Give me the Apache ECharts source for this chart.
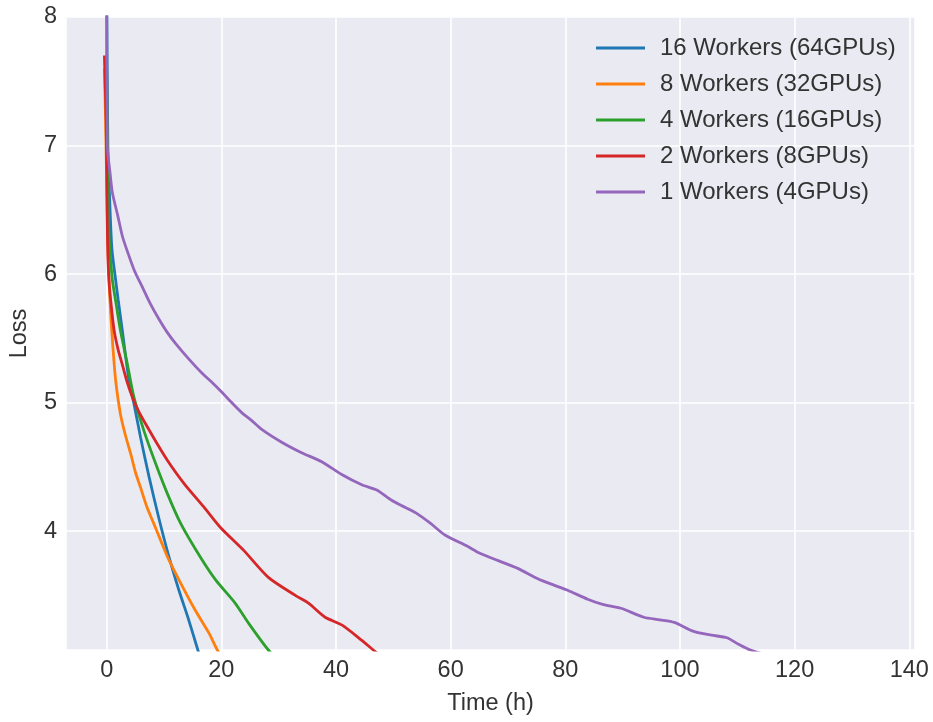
<!DOCTYPE html>
<html>
<head>
<meta charset="utf-8">
<script src="https://cdn.jsdelivr.net/npm/echarts@6/dist/echarts.min.js"></script>
<style>
html,body{margin:0;padding:0;background:#ffffff;}
#chart{width:933px;height:722px;}
</style>
</head>
<body>
<div id="chart"></div>
<script>
// Series names (legend order)
const seriesNames = ['16 Workers (64GPUs)', '8 Workers (32GPUs)', '4 Workers (16GPUs)', '2 Workers (8GPUs)', '1 Workers (4GPUs)'];

// 16 Workers (64GPUs)
const w16Time = [0, 0.2, 0.5, 0.9, 1.57, 2.0, 2.73, 3.3, 3.9, 4.76, 5.9, 7.4, 9.1, 10.8, 12.6, 14.3, 15.9, 17.5];
const w16Loss = [8.2, 7.0, 6.6, 6.2, 5.95, 5.8, 5.56, 5.36, 5.17, 4.99, 4.73, 4.42, 4.10, 3.81, 3.54, 3.31, 3.075, 2.85];

// 8 Workers (32GPUs)
const w8Time = [-0.4, -0.2, 0, 0.2, 0.4, 0.7, 1.1, 1.57, 2.4, 3.3, 4.2, 5.0, 5.9, 7.0, 8.2, 9.4, 10.7, 13.2, 15.5, 17.8, 19.3, 21];
const w8Loss = [7.6, 7.2, 6.7, 6.25, 5.95, 5.69, 5.42, 5.17, 4.91, 4.74, 4.60, 4.46, 4.34, 4.19, 4.06, 3.93, 3.79, 3.57, 3.38, 3.21, 3.075, 2.95];

// 4 Workers (16GPUs)
const w4Time = [0, 0.2, 0.4, 0.7, 1.0, 1.6, 2.4, 3.6, 4.76, 6.5, 8.5, 10.6, 12.9, 16.3, 19.0, 22.4, 24.8, 28.2, 32];
const w4Loss = [7.6, 6.8, 6.3, 6.1, 5.95, 5.78, 5.56, 5.30, 5.04, 4.78, 4.53, 4.29, 4.06, 3.80, 3.62, 3.44, 3.28, 3.075, 2.9];

// 2 Workers (8GPUs)
const w2Time = [-0.4, -0.1, 0, 0.1, 0.2, 0.4, 0.8, 1.3, 2.0, 2.7, 3.5, 4.5, 5.6, 7.1, 8.8, 10.6, 13.5, 16.9, 19.8, 23.9, 28.2, 32.9, 35.2, 38.1, 41.0, 44.5, 46.5, 50];
const w2Loss = [7.7, 7.2, 6.8, 6.4, 6.15, 5.95, 5.75, 5.56, 5.41, 5.30, 5.17, 5.04, 4.93, 4.81, 4.68, 4.55, 4.37, 4.19, 4.03, 3.85, 3.64, 3.50, 3.44, 3.33, 3.27, 3.15, 3.075, 2.95];

// 1 Workers (4GPUs)
const w1Time = [0, 0.1, 0.6, 1.0, 1.9, 2.7, 3.5, 4.8, 6.2, 7.6, 9.1, 10.5, 12.0, 14.3, 16.6, 18.3, 20.1, 21.8, 23.6, 25.3, 27.1, 30.6, 34.0, 37.5, 41.0, 44.5, 47.1, 49.7, 51.4, 54.0, 56.5, 59.0, 63.0, 65.0, 68.3, 71.7, 75.2, 78.0, 80.4, 83.9, 86.5, 89.7, 93.7, 96.5, 99.0, 102.4, 105.5, 108.2, 110.2, 112.3, 120, 134];
const w1Loss = [8.3, 7.0, 6.78, 6.63, 6.46, 6.30, 6.19, 6.03, 5.90, 5.77, 5.65, 5.55, 5.46, 5.34, 5.23, 5.16, 5.08, 5.00, 4.92, 4.86, 4.79, 4.69, 4.61, 4.54, 4.44, 4.36, 4.32, 4.24, 4.20, 4.14, 4.06, 3.97, 3.88, 3.83, 3.77, 3.71, 3.63, 3.58, 3.54, 3.47, 3.43, 3.40, 3.33, 3.31, 3.29, 3.22, 3.19, 3.17, 3.12, 3.075, 2.98, 2.85];

const colors = ['#1f77b4', '#ff7f0e', '#2ca02c', '#d62728', '#9467bd'];
const timeArrays = [w16Time, w8Time, w4Time, w2Time, w1Time];
const lossArrays = [w16Loss, w8Loss, w4Loss, w2Loss, w1Loss];

const xMin = -7.1, xMax = 141;
const yMin = 3.075, yMax = 8;

function zip(a, b) { return a.map((v, i) => [v, b[i]]); }

const textColor = '#333333';
const fontFamily = '"Liberation Sans", Arial, sans-serif';
const fontSize = 23.5;
const legendFontSize = 24;

const chart = echarts.init(document.getElementById('chart'), null, { renderer: 'canvas' });

const option = {
  backgroundColor: '#ffffff',
  animation: false,
  textStyle: { fontFamily: fontFamily },
  grid: {
    left: 64, right: 18, top: 17, bottom: 72,
    show: true, backgroundColor: '#EAEAF2', borderWidth: 0
  },
  legend: {
    orient: 'vertical',
    left: 591, top: 31,
    itemWidth: 49, itemHeight: 3,
    itemGap: 12,
    icon: 'rect',
    data: seriesNames,
    textStyle: {
      color: textColor, fontSize: legendFontSize, fontFamily: fontFamily,
      lineHeight: 24, padding: [0, 0, 0, 10]
    }
  },
  xAxis: {
    type: 'value',
    min: xMin, max: xMax,
    splitNumber: 7,
    name: 'Time (h)',
    nameLocation: 'middle',
    nameGap: 42,
    nameTextStyle: { color: textColor, fontSize: fontSize, fontFamily: fontFamily },
    axisLine: { show: false },
    axisTick: { show: false },
    axisLabel: { color: textColor, fontSize: fontSize, fontFamily: fontFamily, margin: 9, showMinLabel: false, showMaxLabel: false },
    splitLine: { show: true, lineStyle: { color: '#ffffff', width: 1.6 } }
  },
  yAxis: {
    type: 'value',
    min: yMin, max: yMax,
    splitNumber: 5,
    name: 'Loss',
    nameLocation: 'middle',
    nameGap: 34,
    nameTextStyle: { color: textColor, fontSize: fontSize, fontFamily: fontFamily },
    axisLine: { show: false },
    axisTick: { show: false },
    axisLabel: { color: textColor, fontSize: fontSize, fontFamily: fontFamily, margin: 9, showMinLabel: false, showMaxLabel: true },
    splitLine: { show: true, lineStyle: { color: '#ffffff', width: 1.6 } }
  },
  series: seriesNames.map((name, i) => ({
    name: name,
    type: 'line',
    data: zip(timeArrays[i], lossArrays[i]),
    showSymbol: false,
    symbol: 'none',
    clip: true,
    smooth: 0.25,
    color: colors[i],
    lineStyle: { color: colors[i], width: 2.8 },
    z: 2 + i
  }))
};

chart.setOption(option);
</script>
</body>
</html>
